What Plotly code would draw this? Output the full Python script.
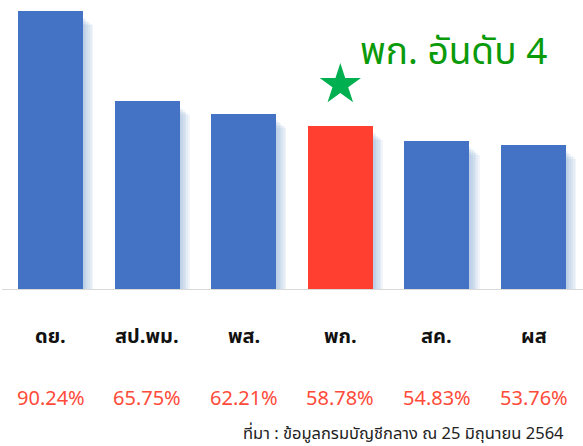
import plotly.graph_objects as go

categories = ["ดย.", "สป.พม.", "พส.", "พก.", "สค.", "ผส"]
values = [90.24, 65.75, 62.21, 58.78, 54.83, 53.76]
pct_labels = ["90.24%", "65.75%", "62.21%", "58.78%", "54.83%", "53.76%"]
highlight = "พก."
headline = "พก. อันดับ 4"
source = "ที่มา : ข้อมูลกรมบัญชีกลาง ณ 25 มิถุนายน 2564"

BLUE = "#4472C4"
RED = "#FF4030"
FONT = "Tahoma, 'Noto Sans Thai', 'Noto Sans', 'Leelawadee UI', sans-serif"

W, H = 583, 446
T, B = 10, 156
plot_h = H - T - B
y0 = 14.0
px_per_unit = 3.654
y1 = y0 + plot_h / px_per_unit
x_lo, x_hi = -0.523, 5.512
px_per_cat = W / (x_hi - x_lo)
bw = 65 / px_per_cat

colors = [RED if c == highlight else BLUE for c in categories]

fig = go.Figure()

# soft shadow layers
for k in range(1, 7):
    dx = k * 1.7 / px_per_cat
    dy = (5 + k * 1.5) / px_per_unit
    fig.add_trace(go.Bar(
        x=categories, y=[v - y0 - dy + 2.0 / px_per_unit for v in values],
        base=y0 - 2.0 / px_per_unit,
        width=bw, offset=-bw / 2 + dx,
        marker=dict(color="rgba(130,165,210,0.11)", line=dict(width=0)),
        hoverinfo="skip", showlegend=False,
    ))

fig.add_trace(go.Bar(
    x=categories, y=[v - y0 for v in values], base=y0,
    width=bw, offset=-bw / 2,
    marker=dict(color=colors, line=dict(width=0)),
    showlegend=False,
))

hv = values[categories.index(highlight)]
fig.add_trace(go.Scatter(
    x=[highlight], y=[hv + 11.4], mode="markers",
    marker=dict(symbol="star", size=31, color="#00B050", line=dict(width=0)),
    showlegend=False, hoverinfo="skip",
))

def py(pix):
    return (H - B - pix) / plot_h

annotations = []
for c, p in zip(categories, pct_labels):
    annotations.append(dict(x=c, y=py(337), xref="x", yref="paper", text=f"<b>{c}</b>",
                            showarrow=False, font=dict(family=FONT, size=20, color="#111111"),
                            xanchor="center", yanchor="middle"))
    annotations.append(dict(x=c, y=py(399), xref="x", yref="paper", text=p,
                            showarrow=False, font=dict(family=FONT, size=20, color="#FF4B3A"),
                            xanchor="center", yanchor="middle"))
annotations.append(dict(x=358 / W, y=py(53), xref="paper", yref="paper", text=headline,
                        showarrow=False, font=dict(family=FONT, size=37, color="#0A9A0A"),
                        xanchor="left", yanchor="middle"))
annotations.append(dict(x=566 / W, y=py(433), xref="paper", yref="paper", text=source,
                        showarrow=False, font=dict(family=FONT, size=16.5, color="#222222"),
                        xanchor="right", yanchor="middle"))

fig.update_layout(
    width=W, height=H,
    margin=dict(l=0, r=0, t=T, b=B),
    paper_bgcolor="white", plot_bgcolor="white",
    barmode="overlay", bargap=0,
    xaxis=dict(range=[x_lo, x_hi], showticklabels=False, showgrid=False, zeroline=False,
               showline=False, ticks=""),
    yaxis=dict(range=[y0, y1], showticklabels=False, showgrid=False, zeroline=False,
               showline=False, ticks=""),
    annotations=annotations,
    shapes=[dict(type="line", xref="paper", yref="y", x0=2 / W, x1=1, y0=y0, y1=y0,
                 line=dict(color="#D9D9D9", width=2), layer="above")],
)

fig.write_html("out.html", config={"displayModeBar": False},
               post_script="document.body.style.margin='0px';document.body.style.overflow='hidden';")
